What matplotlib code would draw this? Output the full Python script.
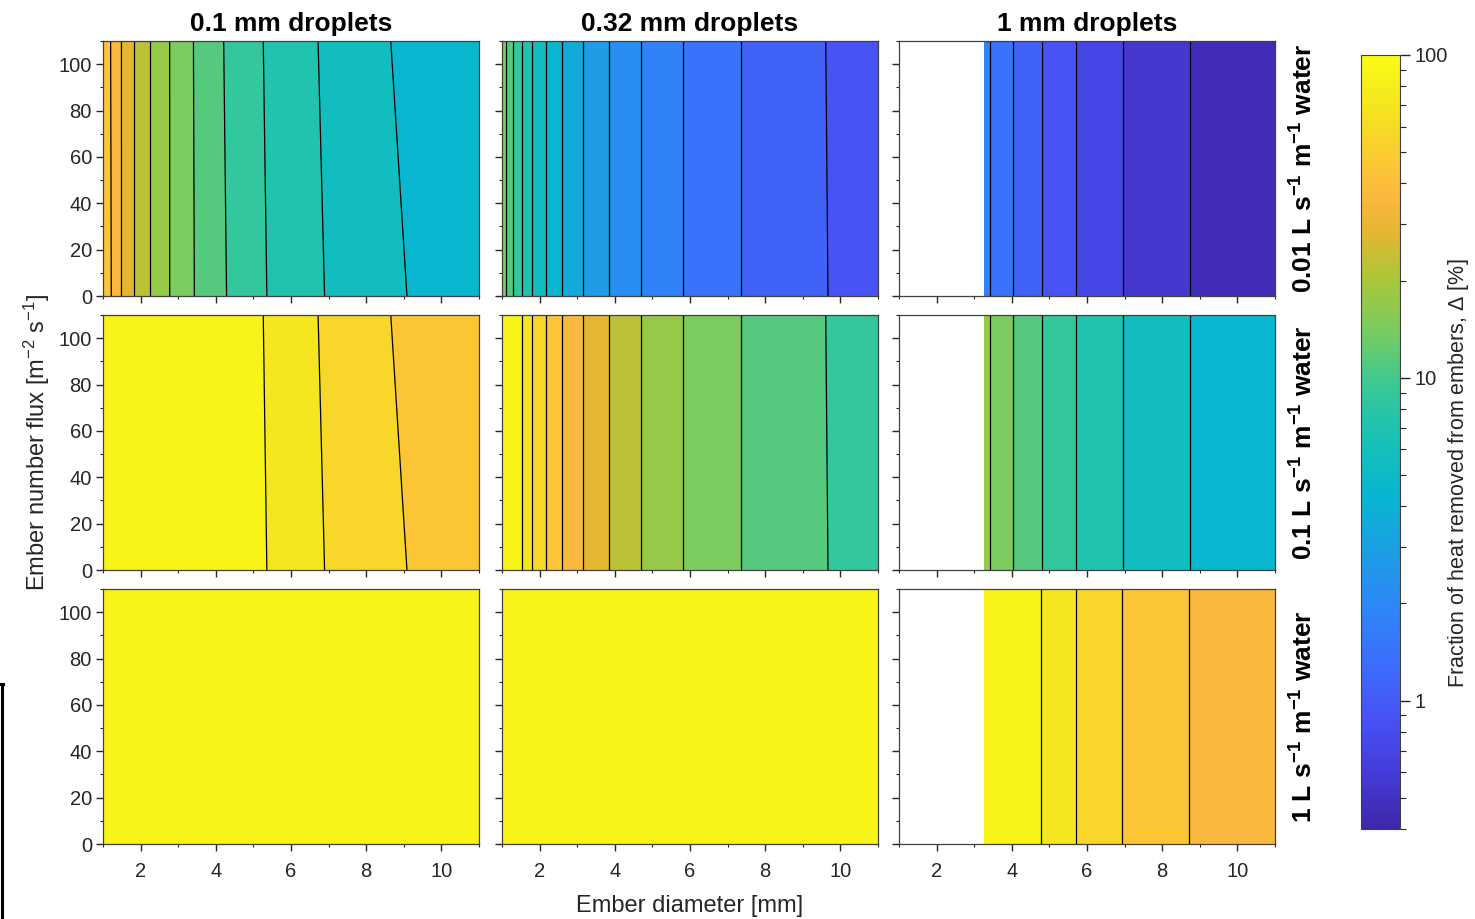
import numpy as np
import matplotlib
matplotlib.use('Agg')
import matplotlib.pyplot as plt
from matplotlib.colors import LinearSegmentedColormap, Normalize, LogNorm
from matplotlib.cm import ScalarMappable
from matplotlib.ticker import MultipleLocator, LogLocator, NullFormatter
from matplotlib.lines import Line2D

plt.rcParams['font.family'] = ['Liberation Sans', 'DejaVu Sans']
plt.rcParams['mathtext.fontset'] = 'custom'
plt.rcParams['mathtext.rm'] = 'Liberation Sans'
plt.rcParams['mathtext.it'] = 'Liberation Sans:italic'
plt.rcParams['mathtext.bf'] = 'Liberation Sans:bold'

# ember diameter [mm] and ember number flux [m-2 s-1] where Delta was read
diameter = [1.0, 1.2, 1.5, 1.8, 2.2, 2.7, 3.25, 4.0, 5.0, 6.0, 7.0, 8.5, 10.0, 11.0]
flux = [0, 110]
nan = float('nan')

# Delta [%]: first row at flux 0, second row at flux 110 (nan = no result)
d010_q001 = [[50.1, 40.5, 31.4, 25.6, 20.5, 16.3, 13.25, 10.7, 8.45, 7.11, 6.22, 5.25, 4.66, 4.32],
             [49.0, 39.9, 31.4, 25.6, 20.5, 16.3, 13.2, 10.5, 8.32, 6.97, 6.07, 5.08, 4.45, 4.07]]
d010_q010 = [[100, 100, 100, 100, 100, 100, 100, 100, 84.5, 71.1, 62.2, 52.5, 46.6, 43.2],
             [100, 100, 100, 100, 100, 100, 100, 100, 83.2, 69.7, 60.7, 50.8, 44.5, 40.7]]
d010_q100 = [[100, 100, 100, 100, 100, 100, 100, 100, 100, 100, 100, 100, 100, 100],
             [100, 100, 100, 100, 100, 100, 100, 100, 100, 100, 100, 100, 100, 100]]

d032_q001 = [[14.7, 11.2, 8.11, 6.27, 4.88, 3.78, 3.03, 2.38, 1.84, 1.53, 1.31, 1.11, 0.971, 0.900],
             [14.7, 11.2, 8.11, 6.27, 4.88, 3.78, 3.03, 2.38, 1.84, 1.53, 1.31, 1.11, 0.964, 0.893]]
d032_q010 = [[100, 100, 81.1, 62.7, 48.8, 37.8, 30.3, 23.8, 18.4, 15.3, 13.1, 11.1, 9.71, 9.00],
             [100, 100, 81.1, 62.7, 48.8, 37.8, 30.3, 23.8, 18.4, 15.3, 13.1, 11.1, 9.64, 8.93]]
d032_q100 = [[100, 100, 100, 100, 100, 100, 100, 100, 100, 100, 100, 100, 100, 100],
             [100, 100, 100, 100, 100, 100, 100, 100, 100, 100, 100, 100, 100, 100]]

d100_q001 = [[nan, nan, nan, nan, nan, nan, 1.70, 1.27, 0.940, 0.741, 0.625, 0.513, 0.441, 0.400],
             [nan, nan, nan, nan, nan, nan, 1.70, 1.27, 0.940, 0.741, 0.625, 0.513, 0.441, 0.400]]
d100_q010 = [[nan, nan, nan, nan, nan, nan, 17.0, 12.7, 9.40, 7.41, 6.25, 5.13, 4.41, 4.00],
             [nan, nan, nan, nan, nan, nan, 17.0, 12.7, 9.40, 7.41, 6.25, 5.13, 4.41, 4.00]]
d100_q100 = [[nan, nan, nan, nan, nan, nan, 100, 100, 74.7, 58.9, 49.6, 40.7, 35.0, 31.8],
             [nan, nan, nan, nan, nan, nan, 100, 100, 74.7, 58.9, 49.6, 40.7, 35.0, 31.8]]

droplet_titles = ['0.1 mm droplets', '0.32 mm droplets', '1 mm droplets']
water_labels = [r'0.01 L s$^{\mathbf{-1}}$ m$^{\mathbf{-1}}$ water',
                r'0.1 L s$^{\mathbf{-1}}$ m$^{\mathbf{-1}}$ water',
                r'1 L s$^{\mathbf{-1}}$ m$^{\mathbf{-1}}$ water']
panels = [[d010_q001, d032_q001, d100_q001],
          [d010_q010, d032_q010, d100_q010],
          [d010_q100, d032_q100, d100_q100]]

# parula-like colormap
parula = LinearSegmentedColormap.from_list('parula', [
    (0.000, (0.2422, 0.1504, 0.6603)),
    (0.071, (0.2706, 0.2330, 0.8500)),
    (0.143, (0.2810, 0.3228, 0.9579)),
    (0.214, (0.2330, 0.4300, 0.9900)),
    (0.286, (0.1786, 0.5289, 0.9682)),
    (0.357, (0.1150, 0.6150, 0.8950)),
    (0.429, (0.0300, 0.7100, 0.8200)),
    (0.500, (0.0900, 0.7550, 0.7200)),
    (0.571, (0.2161, 0.7843, 0.5923)),
    (0.643, (0.4700, 0.8000, 0.3800)),
    (0.714, (0.6720, 0.7793, 0.2227)),
    (0.770, (0.8900, 0.7150, 0.1950)),
    (0.815, (0.9850, 0.7200, 0.2450)),
    (0.857, (0.9900, 0.7750, 0.2100)),
    (0.929, (0.9600, 0.8900, 0.1300)),
    (1.000, (0.9769, 0.9839, 0.0805)),
])

fig = plt.figure(figsize=(14.75, 9.19), dpi=100)
W, H = 1475.0, 919.0
col_left = [103, 502, 899]
row_top = [41, 315, 589]
ax_w, ax_h = 376, 255

fill_levels = np.linspace(-0.5, 2.0, 26)   # log10 of Delta
line_levels = fill_levels[:-1]
norm = Normalize(np.log10(0.4), 2.0)
X, Y = np.meshgrid(diameter, flux)
ink = '#262626'

axes = {}
for r in range(3):
    for c in range(3):
        ax = fig.add_axes([col_left[c] / W, 1 - (row_top[r] + ax_h) / H, ax_w / W, ax_h / H])
        axes[r, c] = ax
        Z = np.ma.masked_invalid(np.log10(np.array(panels[r][c], dtype=float)))
        ax.contourf(X, Y, Z, levels=fill_levels, cmap=parula, norm=norm)
        if Z.min() < 1.9:
            ax.contour(X, Y, Z, levels=line_levels, colors='k', linewidths=0.9,
                       linestyles='solid')
        ax.set_xlim(1, 11)
        ax.set_ylim(0, 110)
        ax.xaxis.set_major_locator(MultipleLocator(2))
        ax.xaxis.set_minor_locator(MultipleLocator(1))
        ax.yaxis.set_major_locator(MultipleLocator(20))
        ax.yaxis.set_minor_locator(MultipleLocator(10))
        ax.tick_params(which='major', direction='out', length=5, width=1, colors=ink, labelsize=14.5)
        ax.tick_params(which='minor', direction='out', length=2.5, width=0.8, colors=ink)
        ax.tick_params(axis='x', pad=8)
        ax.tick_params(axis='y', pad=3)
        for s in ax.spines.values():
            s.set_color('#404040')
            s.set_linewidth(0.9)
        if r < 2:
            ax.tick_params(axis='x', labelbottom=False)
        if c > 0:
            ax.tick_params(axis='y', labelleft=False)
        if r == 0:
            ax.set_title(droplet_titles[c], fontsize=19, fontweight='bold', pad=7)
        if c == 2:
            ax.text(1.04, 0.5, water_labels[r], transform=ax.transAxes, rotation=90,
                    ha='left', va='center', fontsize=19, fontweight='bold')

axes[1, 0].set_ylabel(r'Ember number flux [m$^{-2}$ s$^{-1}$]', fontsize=17, color=ink, labelpad=5)
axes[2, 1].set_xlabel('Ember diameter [mm]', fontsize=17, color=ink, labelpad=10)

# colorbar
cax = fig.add_axes([1361 / W, 1 - 829 / H, 39 / W, 774 / H])
sm = ScalarMappable(norm=LogNorm(0.4, 100), cmap=parula)
cb = fig.colorbar(sm, cax=cax)
cb.set_ticks([1, 10, 100])
cb.set_ticklabels(['1', '10', '100'])
cax.yaxis.set_minor_locator(LogLocator(base=10, subs=np.arange(2, 10)))
cax.yaxis.set_minor_formatter(NullFormatter())
cax.tick_params(which='major', direction='out', length=7, width=1, colors=ink, labelsize=14.5)
cax.tick_params(which='minor', direction='out', length=4, width=0.8, colors=ink)
cb.outline.set_edgecolor('#404040')
cb.set_label(r'Fraction of heat removed from embers, $\Delta$ [%]', fontsize=15.5, color=ink)
cax.yaxis.set_label_coords(2.18, 0.46)

# cropped edge mark on the left of the source image
fig.add_artist(Line2D([2 / W, 2 / W], [0, 1 - 684 / H], color='k', lw=2.2, transform=fig.transFigure))
fig.add_artist(Line2D([0, 3 / W], [1 - 684 / H, 1 - 684 / H], color='k', lw=2.2, transform=fig.transFigure))

fig.savefig('out.png', dpi=100)
